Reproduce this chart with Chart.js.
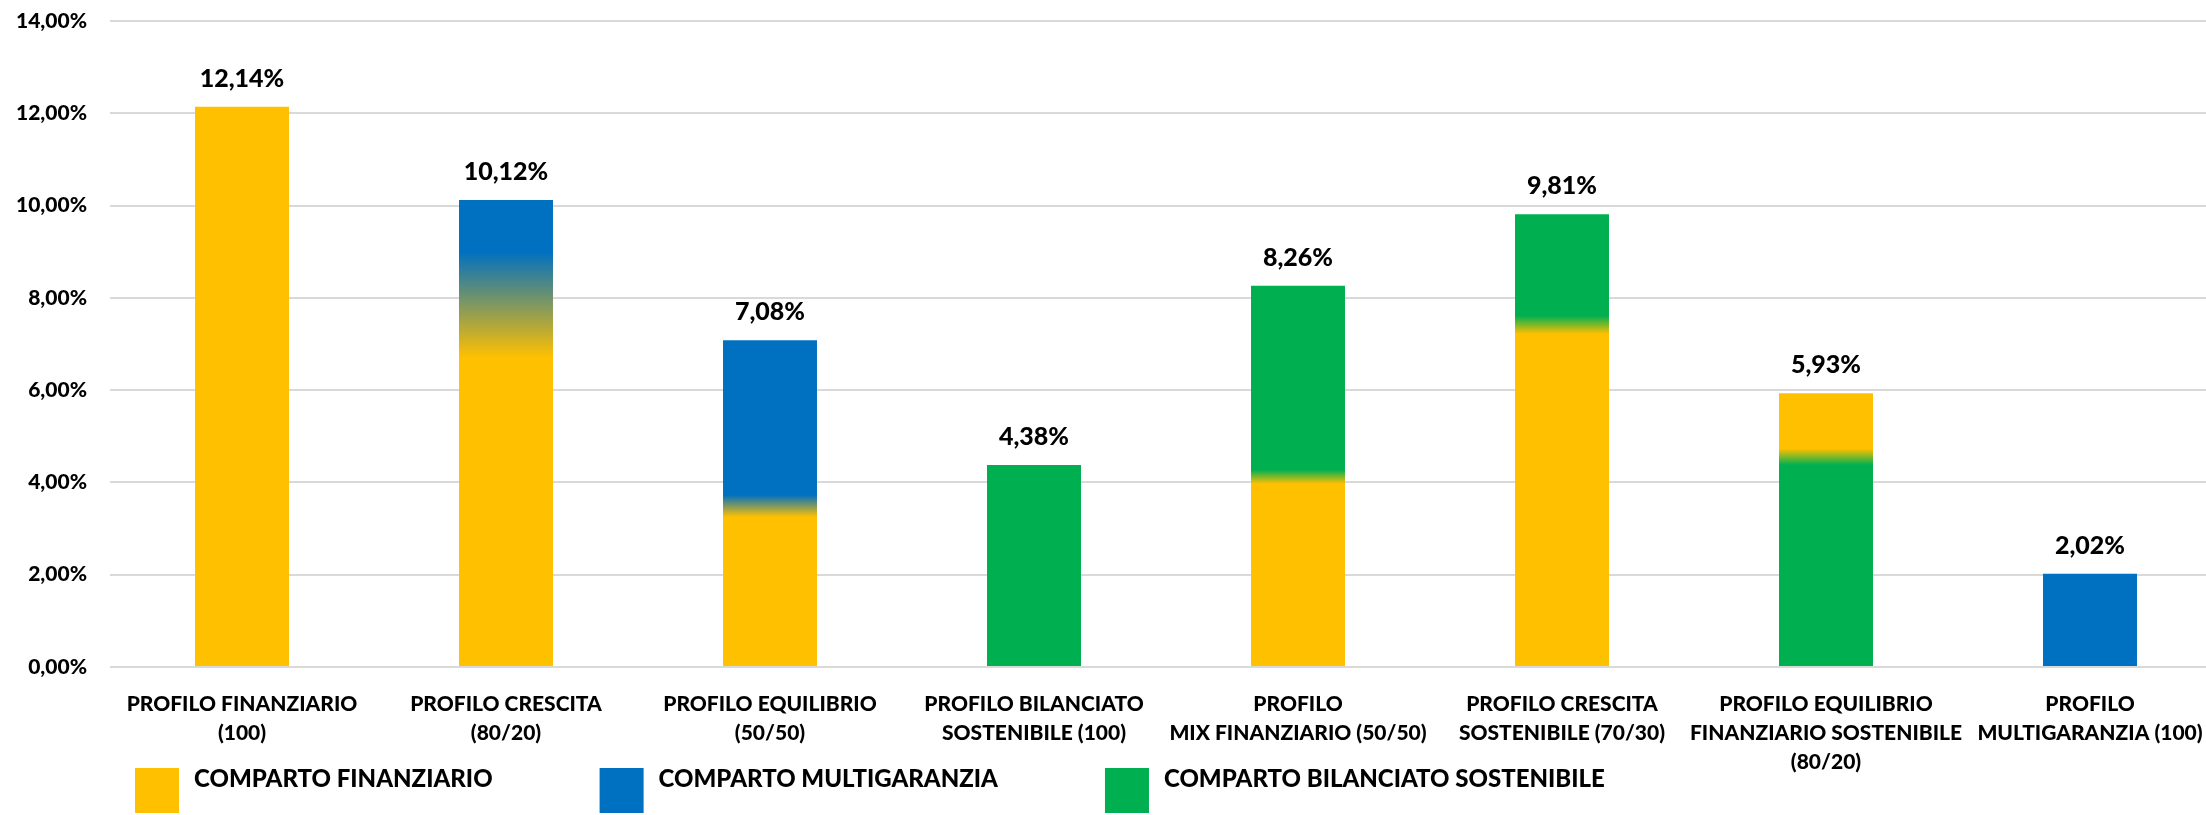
<!DOCTYPE html>
<html>
<head>
<meta charset="utf-8">
<script src="https://cdn.jsdelivr.net/npm/chart.js@4.4.1/dist/chart.umd.min.js"></script>
<style>
  html, body { margin: 0; padding: 0; background: #fff; overflow: hidden; }
  #wrap { width: 2224px; height: 815px; position: relative; }
</style>
</head>
<body>
<div id="wrap"><canvas id="myChart"></canvas></div>
<script>
// Profiles (x categories), one label line per array item
const profileLabels = [
  ["PROFILO FINANZIARIO", "(100)"],
  ["PROFILO CRESCITA", "(80/20)"],
  ["PROFILO EQUILIBRIO", "(50/50)"],
  ["PROFILO BILANCIATO", "SOSTENIBILE (100)"],
  ["PROFILO", "MIX FINANZIARIO (50/50)"],
  ["PROFILO CRESCITA", "SOSTENIBILE (70/30)"],
  ["PROFILO EQUILIBRIO", "FINANZIARIO SOSTENIBILE", "(80/20)"],
  ["PROFILO", "MULTIGARANZIA (100)"]
];

// Return of each profile (%)
const returns = [12.14, 10.12, 7.08, 4.38, 8.26, 9.81, 5.93, 2.02];

// Which comparto fills the lower / upper part of each bar
const bottomFund = ["FIN", "FIN", "FIN", "BIL", "FIN", "FIN", "BIL", "MUL"];
const topFund    = ["FIN", "MUL", "MUL", "BIL", "BIL", "BIL", "FIN", "MUL"];

// Value range (%) where the two colours blend into each other
const blendFrom = [null, 6.7, 3.25, null, 3.97, 7.22, 4.38, null];
const blendTo   = [null, 9.0, 3.73, null, 4.27, 7.61, 4.73, null];

// Y axis ticks (%)
const yTicks = [0, 2, 4, 6, 8, 10, 12, 14];

// Legend entries
const fundKeys  = ["FIN", "MUL", "BIL"];
const fundNames = ["COMPARTO FINANZIARIO", "COMPARTO MULTIGARANZIA", "COMPARTO BILANCIATO SOSTENIBILE"];

const fundColors = { FIN: "#FFC000", MUL: "#0070C0", BIL: "#00B050" };
const FONT = "Lato, 'Open Sans', sans-serif";
const WEIGHT = "900";

function pct(v) {
  return v.toFixed(2).replace(".", ",") + "%";
}

// bar fill: plain colour or vertical gradient between two comparti
function barFill(ctx) {
  const i = ctx.dataIndex;
  const lo = fundColors[bottomFund[i]];
  const hi = fundColors[topFund[i]];
  const chart = ctx.chart;
  if (lo === hi || !chart.chartArea) return lo;
  const y = chart.scales.y;
  const g = chart.ctx.createLinearGradient(0, y.getPixelForValue(blendFrom[i]), 0, y.getPixelForValue(blendTo[i]));
  g.addColorStop(0, lo);
  g.addColorStop(1, hi);
  return g;
}

// value labels above the bars
const valueLabels = {
  id: "valueLabels",
  afterDatasetsDraw(chart) {
    const c = chart.ctx;
    const meta = chart.getDatasetMeta(0);
    c.save();
    c.font = WEIGHT + " 25px " + FONT;
    c.fillStyle = "#000";
    c.textAlign = "center";
    c.textBaseline = "alphabetic";
    meta.data.forEach((bar, i) => {
      c.fillText(pct(returns[i]), bar.x, bar.y - 20);
    });
    c.restore();
  }
};

// legend under the axis labels, left aligned like the original
const fundLegend = {
  id: "fundLegend",
  afterDraw(chart) {
    const c = chart.ctx;
    const top = chart.height - 47;
    let x = chart.chartArea.left + 25;
    c.save();
    c.font = WEIGHT + " 24px " + FONT;
    c.textBaseline = "middle";
    fundKeys.forEach((k, i) => {
      c.fillStyle = fundColors[k];
      c.fillRect(x, top, 44, 45);
      x += 44 + 15;
      c.fillStyle = "#000";
      c.fillText(fundNames[i], x, top + 11);
      x += c.measureText(fundNames[i]).width + 107;
    });
    c.restore();
  }
};

function draw() {
  const ctx = document.getElementById("myChart").getContext("2d");
  new Chart(ctx, {
    type: "bar",
    data: {
      labels: profileLabels,
      datasets: [{
        data: returns,
        backgroundColor: barFill,
        borderWidth: 0,
        barPercentage: 0.356,
        categoryPercentage: 1
      }]
    },
    options: {
      responsive: true,
      maintainAspectRatio: false,
      animation: false,
      layout: { padding: { top: 21, left: 16, right: 2, bottom: 38 } },
      plugins: {
        legend: { display: false },
        tooltip: { enabled: false }
      },
      scales: {
        x: {
          grid: { display: false },
          border: { display: false },
          ticks: {
            color: "#000",
            font: { family: FONT, size: 21, weight: WEIGHT, lineHeight: 1.38 },
            padding: 15,
            maxRotation: 0,
            autoSkip: false
          },
          afterFit: (scale) => { scale.height = 110; }
        },
        y: {
          min: 0,
          max: 14,
          afterBuildTicks: (scale) => { scale.ticks = yTicks.map((v) => ({ value: v })); },
          // invisible tick marks keep the labels away from the plot
          grid: { color: "#d9d9d9", lineWidth: 2, drawTicks: true, tickLength: 23, tickColor: "rgba(0,0,0,0)" },
          border: { display: false },
          ticks: {
            color: "#000",
            font: { family: FONT, size: 21, weight: WEIGHT },
            padding: 0,
            callback: (v) => pct(v)
          },
          afterFit: (scale) => { scale.width = 94; }
        }
      }
    },
    plugins: [valueLabels, fundLegend]
  });
}

document.fonts.load(WEIGHT + " 24px Lato").then(draw, draw);
</script>
</body>
</html>
